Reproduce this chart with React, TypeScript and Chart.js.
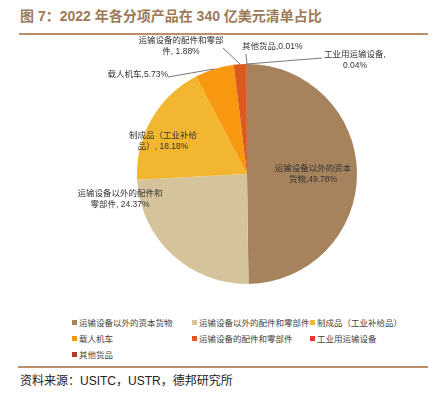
import React, { useEffect, useRef } from "react";
import { Chart, registerables } from "chart.js";
Chart.register(...registerables);

const title = "图 7：2022 年各分项产品在 340 亿美元清单占比";
const source = "资料来源：USITC，USTR，德邦研究所";
const categories = [
  "运输设备以外的资本货物",
  "运输设备以外的配件和零部件",
  "制成品（工业补给品）",
  "载人机车",
  "运输设备的配件和零部件",
  "工业用运输设备",
  "其他货品",
];
const shares = [49.78, 24.37, 18.18, 5.73, 1.88, 0.04, 0.01];
const colors = ["#A6835C", "#D5C39C", "#F2B631", "#F7980F", "#DA5A1F", "#E5372A", "#B03A22"];
// label text (value appended to last line)
const labelLines = [
  ["运输设备以外的资本", "货物,"],
  ["运输设备以外的配件和", "零部件, "],
  ["制成品（工业补给", "品）, "],
  ["载人机车,"],
  ["运输设备的配件和零部", "件, "],
  ["工业用运输设备,", ""],
  ["其他货品,"],
];

// label placement styles: offsets (px) from pie centre for radius 110
type LP = { x: number; y: number; align: CanvasTextAlign; leader?: [number, number] };
const placements: LP[] = [
  { x: 66, y: 0, align: "center" },
  { x: -127, y: 25.5, align: "center" },
  { x: -84, y: -32.5, align: "center" },
  { x: -79, y: -99, align: "right", leader: [-79, -97] },
  { x: -66, y: -127.5, align: "center", leader: [-24, -126] },
  { x: 108, y: -114, align: "center", leader: [75, -116] },
  { x: -5, y: -127, align: "left", leader: [-1, -120] },
];

const labelFont = '8.5px "Liberation Sans", "Noto Sans CJK SC", sans-serif';

const labelPlugin = {
  id: "pieLabels",
  afterDatasetsDraw(chart: any) {
    const ctx = chart.ctx as CanvasRenderingContext2D;
    const meta = chart.getDatasetMeta(0);
    ctx.save();
    ctx.font = labelFont;
    ctx.textBaseline = "middle";
    meta.data.forEach((arc: any, i: number) => {
      const { x, y, startAngle, endAngle, outerRadius } = arc.getProps(
        ["x", "y", "startAngle", "endAngle", "outerRadius"],
        true
      );
      const s = outerRadius / 110;
      const p = placements[i];
      const mid = (startAngle + endAngle) / 2;
      if (p.leader) {
        ctx.strokeStyle = "#555";
        ctx.lineWidth = 0.8;
        ctx.beginPath();
        ctx.moveTo(x + Math.cos(mid) * outerRadius, y + Math.sin(mid) * outerRadius);
        ctx.lineTo(x + p.leader[0] * s, y + p.leader[1] * s);
        ctx.stroke();
      }
      const lines = labelLines[i].slice();
      lines[lines.length - 1] = lines[lines.length - 1] + shares[i].toFixed(2) + "%";
      const lh = 11;
      const tx = x + p.x * s;
      const ty0 = y + p.y * s - ((lines.length - 1) * lh) / 2;
      ctx.fillStyle = "#333";
      ctx.textAlign = p.align;
      lines.forEach((ln, k) => ctx.fillText(ln, tx, ty0 + k * lh));
    });
    ctx.restore();
  },
};

export default function App() {
  const ref = useRef<HTMLCanvasElement>(null);
  useEffect(() => {
    if (!ref.current) return;
    const chart = new Chart(ref.current, {
      type: "pie",
      data: {
        labels: categories,
        datasets: [{ data: shares, backgroundColor: colors, borderWidth: 0, hoverOffset: 0 }],
      },
      options: {
        responsive: false,
        animation: false,
        events: [],
        layout: { padding: { left: 137, right: 76, top: 34, bottom: 26 } },
        plugins: { legend: { display: false }, tooltip: { enabled: false } },
      },
      plugins: [labelPlugin],
    });
    return () => chart.destroy();
  }, []);

  const colX = [72, 192, 310];
  const rowY = [322, 338, 354];

  return (
    <div
      style={{
        position: "fixed",
        left: 0,
        top: 0,
        width: 433,
        height: 399,
        background: "#fff",
        fontFamily: '"Liberation Sans", "Noto Sans CJK SC", sans-serif',
      }}
    >
      <canvas ref={ref} width={433} height={280} style={{ position: "absolute", left: 0, top: 30 }} />
      <div
        style={{
          position: "absolute",
          left: 20,
          top: 7,
          fontSize: 14,
          lineHeight: "18px",
          fontWeight: "bold",
          color: "#9C7A57",
          whiteSpace: "nowrap",
        }}
      >
        {title}
      </div>
      <div style={{ position: "absolute", left: 19, top: 33, width: 409, height: 1.5, background: "#B8906C" }} />
      {categories.map((c, i) => (
        <div
          key={c}
          style={{
            position: "absolute",
            left: colX[i % 3],
            top: rowY[Math.floor(i / 3)] - 6,
            height: 12,
            display: "flex",
            alignItems: "center",
            whiteSpace: "nowrap",
            fontSize: 8.5,
            color: "#444",
          }}
        >
          <span style={{ display: "inline-block", width: 5, height: 5, background: colors[i], marginRight: 2 }} />
          <span>{c}</span>
        </div>
      ))}
      <div style={{ position: "absolute", left: 18, top: 366, width: 410, height: 1.5, background: "#B8906C" }} />
      <div
        style={{
          position: "absolute",
          left: 20,
          top: 373,
          fontSize: 12,
          lineHeight: "16px",
          color: "#222",
          whiteSpace: "nowrap",
        }}
      >
        {source}
      </div>
    </div>
  );
}
